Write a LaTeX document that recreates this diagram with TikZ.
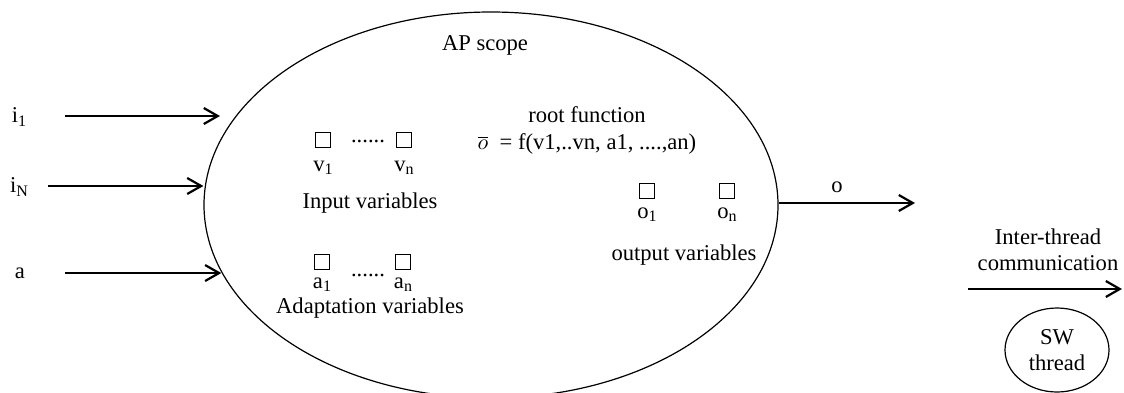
\documentclass[tikz,border=0pt]{standalone}
\usepackage{fontspec}
\setmainfont{Liberation Serif}
\usetikzlibrary{shapes.geometric, arrows.meta, positioning}
\newcommand{\subix}[1]{\raisebox{-0.3ex}{\footnotesize #1}}

\begin{document}
\begin{tikzpicture}[x=0.5pt, y=-0.5pt, every node/.style={font=\fontsize{11.3}{13}\selectfont, inner sep=1pt}, align=center,
    >={Straight Barb[length=7pt, width=8pt]}]
  \tikzset{varbox/.style={draw, line width=0.5pt, minimum size=7.5pt, inner sep=0pt},
    flow/.style={->, line width=1.1pt}}
  \useasboundingbox (0,0) rectangle (1124,392);

  % AP scope
  \node (ap) [draw, ellipse, line width=0.6pt, minimum width=287pt, minimum height=193pt, inner sep=0pt] at (491,205) {};
  \node (title) at (485,45) {AP scope};
  \node (root) at (587,115) {root function};
  \node (fun) [below=3pt of root] {$\overline{o}$~ = f(v1,..vn, a1, ....,an)};

  % input variables
  \node (v1) [varbox] at (323,140) {};
  \node (vn) [varbox] at (404,140) {};
  \node (vdots) at (368,141) {......};
  \node (v1lbl) [below=5.5pt of v1] {v\subix{1}};
  \node (vnlbl) [below=5.5pt of vn] {v\subix{n}};
  \node (inlbl) at (370,203) {Input variables};

  % adaptation variables
  \node (a1) [varbox] at (322,262) {};
  \node (an) [varbox] at (403,262) {};
  \node (adots) at (368,275) {......};
  \node (a1lbl) [below=2.5pt of a1] {a\subix{1}};
  \node (anlbl) [below=2.5pt of an] {a\subix{n}};
  \node (adlbl) at (370,308) {Adaptation variables};

  % output variables
  \node (o1) [varbox] at (647,191) {};
  \node (on) [varbox] at (727,191) {};
  \node (o1lbl) [below=3pt of o1] {o\subix{1}};
  \node (onlbl) [below=3pt of on] {o\subix{n}};
  \node (outlbl) at (684,255) {output variables};

  % inputs
  \node (i1) at (19,117) {i\subix{1}};
  \node (iN) at (19,187) {i\subix{N}};
  \node (ain) at (20,273) {a};
  \coordinate (i1s) at (65,116);
  \coordinate (i1e) at (220,116);
  \coordinate (iNs) at (48,186);
  \coordinate (as) at (65,273);
  \draw [flow] (i1s) -- (i1e);
  \draw [flow] (iNs) -- (iNs -| ap.west);
  \draw [flow] (as) -- (as -| ap.194.2);

  % output
  \coordinate (oe) at (915,203);
  \node (olbl) at (837,187) {o};
  \draw [flow] (oe -| ap.east) -- (oe);

  % thread
  \node (itc) at (1048,250) {Inter-thread\\communication};
  \coordinate (itcs) at (968,289);
  \coordinate (itce) at (1122,289);
  \draw [flow] (itcs) -- (itce);
  \node (sw) [draw, ellipse, line width=0.6pt, minimum width=52pt, minimum height=42pt, inner sep=0pt] at (1057,350) {SW\\thread};
\end{tikzpicture}
\end{document}
